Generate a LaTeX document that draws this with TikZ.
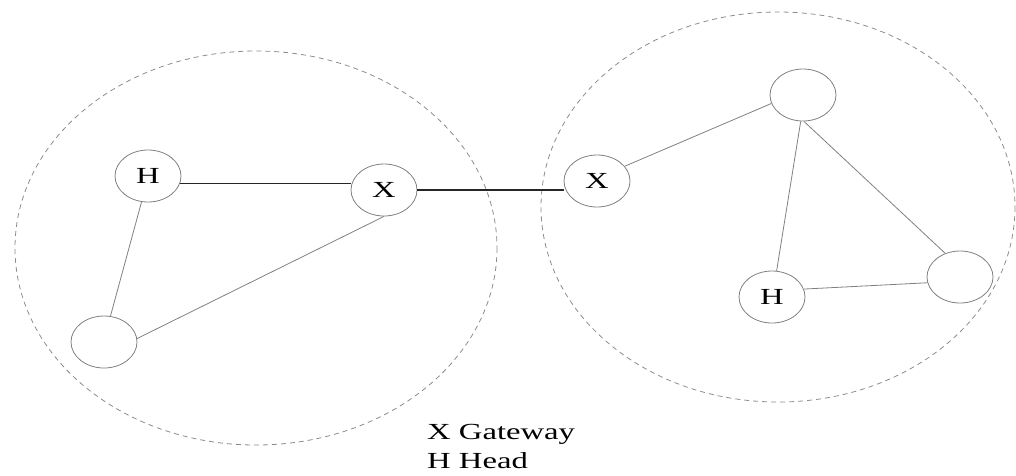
\documentclass[tikz,border=0pt]{standalone}
\usepackage{fontspec}
\setmainfont{Liberation Serif}
\usetikzlibrary{shapes.geometric}
\newcommand\wt[1]{\scalebox{1.42}[1]{#1}}
\tikzset{
  nd/.style={draw=black!50, line width=0.8pt, ellipse, minimum width=66pt, minimum height=52pt, inner sep=0pt, font=\fontsize{23}{27}\selectfont},
  grp/.style={draw=black!45, line width=0.8pt, dash pattern=on 5pt off 4pt},
  ln/.style={draw=black!50, line width=0.8pt},
  bk/.style={draw=black!85, line width=1.6pt},
  lg/.style={anchor=base west, inner sep=0pt, font=\fontsize{23}{27}\selectfont}
}
\begin{document}
\begin{tikzpicture}[x=1pt,y=-1pt]
\useasboundingbox (0,0) rectangle (1016,475);
\draw[grp] (256,248) ellipse [x radius=241, y radius=197];
\draw[grp] (778,207) ellipse [x radius=237, y radius=195];
\node[nd] (H1) at (148,176) {\wt{H}};
\node[nd] (X1) at (384,190) {\wt{X}};
\node[nd] (B1) at (104,342) {};
\node[nd] (X2) at (597,181) {\wt{X}};
\node[nd] (T2) at (803,95) {};
\node[nd] (H2) at (772,297) {\wt{H}};
\node[nd] (R2) at (960,277) {};
\draw[bk] (H1.-13) -- (H1.-13 -| X1.west);
\draw[bk] (X1.east) -- (X1.east -| X2.west);
\draw[ln] (H1.-104) -- (B1.76);
\draw[ln] (X1.south) -- (B1.6);
\draw[ln] (X2.28) -- (T2.195);
\draw[ln] (T2.-95) -- (H2.80);
\draw[ln] (T2.-88) -- (R2.122);
\draw[ln] (H2.14) -- (R2.190);
\node[lg] (lg1) at (427,439) {\wt{X Gateway}};
\node[lg] (lg2) at (427,468) {\wt{H Head}};
\end{tikzpicture}
\end{document}
